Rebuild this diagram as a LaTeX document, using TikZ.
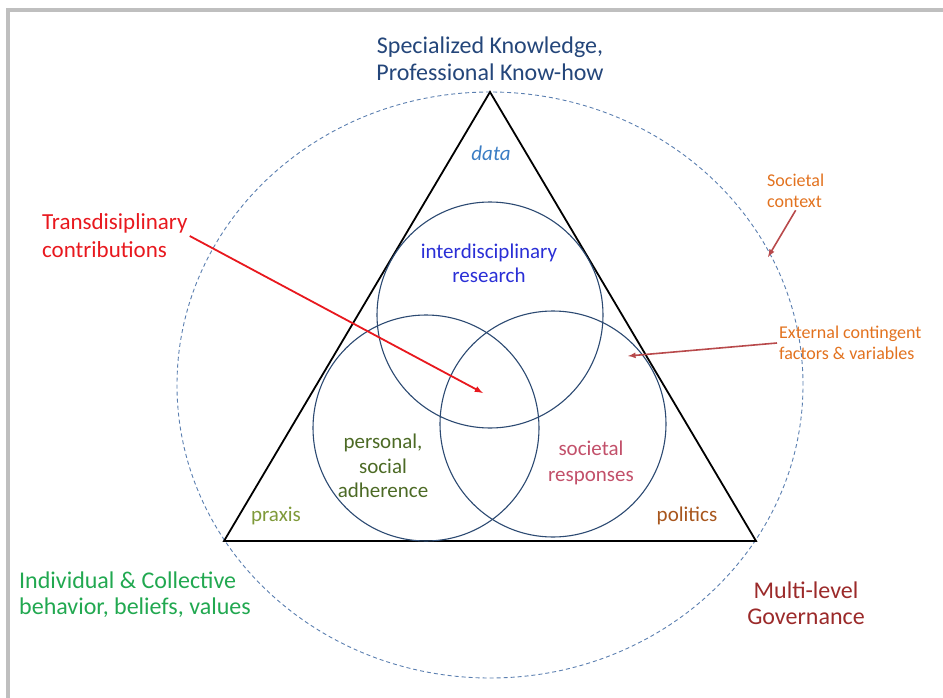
\documentclass[tikz,border=0pt]{standalone}
\usepackage{fontspec}
\setmainfont{Carlito}
\usetikzlibrary{arrows}
\definecolor{navy}{HTML}{24467A}
\definecolor{datablue}{HTML}{3B7DC4}
\definecolor{interblue}{HTML}{2A2FD6}
\definecolor{transred}{HTML}{E8181E}
\definecolor{ctxorange}{HTML}{E2721F}
\definecolor{persgreen}{HTML}{4C6A25}
\definecolor{resprose}{HTML}{C2506A}
\definecolor{praxgreen}{HTML}{7F9A3A}
\definecolor{polbrown}{HTML}{A8561D}
\definecolor{indgreen}{HTML}{21A850}
\definecolor{govred}{HTML}{9B2A2A}
\definecolor{venncol}{HTML}{2C4A72}
\definecolor{dashcol}{HTML}{5B7FB0}
\definecolor{pointer}{HTML}{B8494B}
\newcommand{\twolines}[2]{#1 \\ #2}

\begin{document}
\begin{tikzpicture}[x = 1pt, y = -1pt, every node/.style = {align = center, inner sep = 2pt}, venn/.style = {circle, draw = venncol, line width = 1.1pt, minimum size = 226pt, inner sep = 0pt}, labelbig/.style = {font = \fontsize{24}{27}\selectfont}, labelmid/.style = {font = \fontsize{21}{24}\selectfont}, labelsmall/.style = {font = \fontsize{18}{21.5}\selectfont}, pointerarrow/.style = {draw = pointer, line width = 1.6pt, -latex}]

	\useasboundingbox (0, 0) rectangle (943, 698);
	\draw[color = black!25, line width = 3.5pt] (8, 698) -- (8, 10) -- (943, 10);

	\draw[dashcol, line width = 0.9pt, dash pattern = on 4pt off 3pt] (490, 385) ellipse [x radius = 313pt, y radius = 293pt];

	\coordinate (apex)  at (490,  92);
	\coordinate (left)  at (224, 541);
	\coordinate (right) at (756, 541);
	\draw[line width = 1.8pt, line join = miter] (apex) -- (left) -- (right) -- cycle;

	\foreach \name/\cx/\cy in {research/490/315, personal/426/428, societal/553/424}
		\node[venn] (\name) at (\cx, \cy) {};

	\node (know)     at (490,  59) [labelbig, text = navy] {\twolines{Specialized Knowledge,}{Professional Know-how}};
	\node (data)     at (491, 153) [labelmid, text = datablue] {\textit{data}};
	\node (inter)    at (489, 263) [labelmid, text = interblue] {\twolines{interdisciplinary}{research}};
	\node (trans)    at ( 40, 236) [anchor = west, align = left, font = \fontsize{23}{28}\selectfont, text = transred] {\twolines{Transdisiplinary}{contributions}};
	\node (soc)      at (765, 191) [anchor = west, align = left, labelsmall, text = ctxorange] {\twolines{Societal}{context}};
	\node (ext)      at (777, 343) [anchor = west, align = left, labelsmall, text = ctxorange] {\twolines{External contingent}{factors \& variables}};
	\node (pers)     at (383, 466) [font = \fontsize{21}{24.5}\selectfont, text = persgreen] {personal,\\ social\\ adherence};
	\node (resp)     at (591, 463) [font = \fontsize{21}{26}\selectfont, text = resprose] {\twolines{societal}{responses}};
	\node (praxis)   at (276, 516) [labelmid, text = praxgreen] {praxis};
	\node (politics) at (687, 516) [labelmid, text = polbrown] {politics};
	\node (indiv)    at ( 17, 595) [anchor = west, align = left, font = \fontsize{24}{26}\selectfont, text = indgreen] {\twolines{Individual \& Collective}{behavior, beliefs, values}};
	\node (gov)      at (806, 603) [font = \fontsize{24}{26}\selectfont, text = govred] {\twolines{Multi-level}{Governance}};

	\coordinate (core)    at (483, 393);
	\coordinate (rim)     at (768, 257);
	\coordinate (outside) at (628, 356);

	\draw[draw = transred, line width = 1.8pt, -latex] (trans.east) -- (core);
	\draw[pointerarrow] (soc.south) -- (rim);
	\draw[pointerarrow] (ext.west) -- (outside);
\end{tikzpicture}
\end{document}
